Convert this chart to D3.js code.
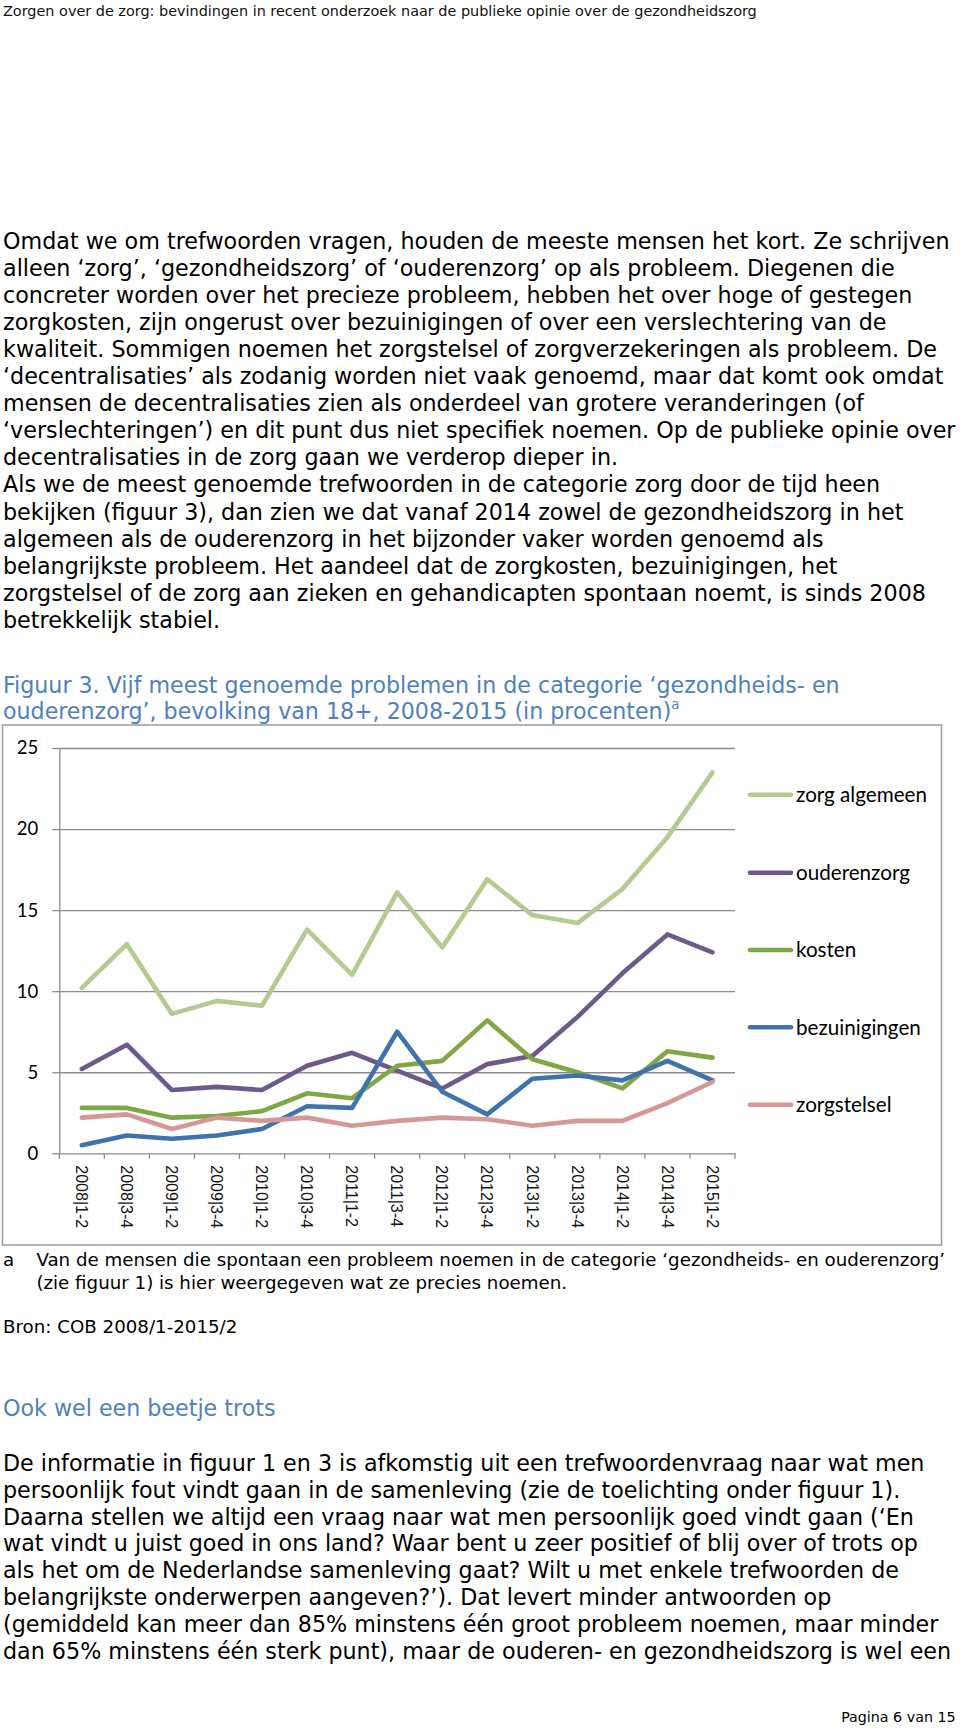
<!DOCTYPE html>
<html><head><meta charset="utf-8">
<script src="https://cdn.jsdelivr.net/npm/d3@7"></script>
<style>html,body{margin:0;padding:0;background:#fff;} svg{display:block}</style>
</head><body>
<svg id="page" width="960" height="1728"></svg>
<script>
// ---------- page text ----------
const headerText = "Zorgen over de zorg: bevindingen in recent onderzoek naar de publieke opinie over de gezondheidszorg";
const para1 = [
  "Omdat we om trefwoorden vragen, houden de meeste mensen het kort. Ze schrijven",
  "alleen ‘zorg’, ‘gezondheidszorg’ of ‘ouderenzorg’ op als probleem. Diegenen die",
  "concreter worden over het precieze probleem, hebben het over hoge of gestegen",
  "zorgkosten, zijn ongerust over bezuinigingen of over een verslechtering van de",
  "kwaliteit. Sommigen noemen het zorgstelsel of zorgverzekeringen als probleem. De",
  "‘decentralisaties’ als zodanig worden niet vaak genoemd, maar dat komt ook omdat",
  "mensen de decentralisaties zien als onderdeel van grotere veranderingen (of",
  "‘verslechteringen’) en dit punt dus niet specifiek noemen. Op de publieke opinie over",
  "decentralisaties in de zorg gaan we verderop dieper in.",
  "Als we de meest genoemde trefwoorden in de categorie zorg door de tijd heen",
  "bekijken (figuur 3), dan zien we dat vanaf 2014 zowel de gezondheidszorg in het",
  "algemeen als de ouderenzorg in het bijzonder vaker worden genoemd als",
  "belangrijkste probleem. Het aandeel dat de zorgkosten, bezuinigingen, het",
  "zorgstelsel of de zorg aan zieken en gehandicapten spontaan noemt, is sinds 2008",
  "betrekkelijk stabiel."
];
const captionLines = [
  "Figuur 3. Vijf meest genoemde problemen in de categorie ‘gezondheids- en",
  "ouderenzorg’, bevolking van 18+, 2008-2015 (in procenten)"
];
const captionSup = "a";
const footnoteMark = "a";
const footnoteLines = [
  "Van de mensen die spontaan een probleem noemen in de categorie ‘gezondheids- en ouderenzorg’",
  "(zie figuur 1) is hier weergegeven wat ze precies noemen."
];
const sourceText = "Bron: COB 2008/1-2015/2";
const heading2 = "Ook wel een beetje trots";
const para2 = [
  "De informatie in figuur 1 en 3 is afkomstig uit een trefwoordenvraag naar wat men",
  "persoonlijk fout vindt gaan in de samenleving (zie de toelichting onder figuur 1).",
  "Daarna stellen we altijd een vraag naar wat men persoonlijk goed vindt gaan (‘En",
  "wat vindt u juist goed in ons land? Waar bent u zeer positief of blij over of trots op",
  "als het om de Nederlandse samenleving gaat? Wilt u met enkele trefwoorden de",
  "belangrijkste onderwerpen aangeven?’). Dat levert minder antwoorden op",
  "(gemiddeld kan meer dan 85% minstens één groot probleem noemen, maar minder",
  "dan 65% minstens één sterk punt), maar de ouderen- en gezondheidszorg is wel een"
];
const footerText = "Pagina 6 van 15";

// ---------- chart data ----------
const categories = ["2008|1-2","2008|3-4","2009|1-2","2009|3-4","2010|1-2","2010|3-4","2011|1-2","2011|3-4",
  "2012|1-2","2012|3-4","2013|1-2","2013|3-4","2014|1-2","2014|3-4","2015|1-2"];
const seriesNames = ["zorg algemeen","ouderenzorg","kosten","bezuinigingen","zorgstelsel"];
const zorgAlgemeen  = [10.2, 12.9, 8.6, 9.4, 9.1, 13.8, 11.0, 16.1, 12.7, 16.9, 14.7, 14.2, 16.3, 19.5, 23.5];
const ouderenzorg   = [5.2, 6.7, 3.9, 4.1, 3.9, 5.4, 6.2, 5.1, 4.0, 5.5, 6.0, 8.4, 11.1, 13.5, 12.4];
const kosten        = [2.8, 2.8, 2.2, 2.3, 2.6, 3.7, 3.4, 5.4, 5.7, 8.2, 5.8, 5.0, 4.0, 6.3, 5.9];
const bezuinigingen = [0.5, 1.1, 0.9, 1.1, 1.5, 2.9, 2.8, 7.5, 3.8, 2.4, 4.6, 4.8, 4.5, 5.7, 4.5];
const zorgstelsel   = [2.2, 2.4, 1.5, 2.2, 2.0, 2.2, 1.7, 2.0, 2.2, 2.1, 1.7, 2.0, 2.0, 3.1, 4.4];
const seriesColors  = ["#b3cb90","#6e5a8a","#7fa743","#4072ad","#d69896"];
const yTicks = [0, 5, 10, 15, 20, 25];

const series = [zorgAlgemeen, ouderenzorg, kosten, bezuinigingen, zorgstelsel]
  .map((vals, i) => ({name: seriesNames[i], color: seriesColors[i], values: vals}));

// ---------- drawing ----------
const svg = d3.select("#page");
svg.append("rect").attr("width", 960).attr("height", 1728).attr("fill", "#fff");

const BODY = "'DejaVu Sans', Verdana, sans-serif";
const BLUE = "#4f81bd";

function fitSize(text, family, target) {
  const p = svg.append("text").attr("font-family", family).attr("font-size", 20).text(text);
  const w = p.node().getComputedTextLength();
  p.remove();
  return 20 * target / w;
}
function addLines(lines, x, yc0, dy, fs, family, color, anchor) {
  const g = svg.append("g").attr("font-family", family).attr("fill", color).attr("font-size", fs);
  return lines.map((t, i) => g.append("text")
    .attr("x", x).attr("y", yc0 + i * dy + 0.33 * fs)
    .attr("text-anchor", anchor || "start").text(t));
}

// header
const fsHead = fitSize(headerText, BODY, 755);
addLines([headerText], 3, 11, 0, fsHead, BODY, "#111");

// paragraph 1
const fsBody = fitSize(para1[0], BODY, 947);
addLines(para1, 3, 241.4, 27.08, fsBody, BODY, "#000");

// caption
const fsCap = fitSize(captionLines[0], BODY, 837);
const capTexts = addLines(captionLines, 3, 685.6, 26.4, fsCap, BODY, BLUE);
capTexts[1].append("tspan").attr("font-size", fsCap * 0.6).attr("dy", -fsCap * 0.45).text(captionSup);

// footnote
const fsFoot = fitSize(footnoteLines[0], BODY, 909.6);
addLines([footnoteMark], 3, 1260, 0, fsFoot, BODY, "#000");
addLines(footnoteLines, 36.4, 1260, 23, fsFoot, BODY, "#000");
addLines([sourceText], 3, 1327, 0, fsFoot, BODY, "#000");

// heading 2
const fsH2 = fitSize(heading2, BODY, 272.6);
addLines([heading2], 3, 1408.6, 0, fsH2, BODY, BLUE);

// paragraph 2
const fsBody2 = fitSize(para2[0], BODY, 922);
addLines(para2, 3, 1463.7, 26.8, fsBody2, BODY, "#000");

// footer
const fsFooter = fitSize(footerText, BODY, 114.6);
addLines([footerText], 955.6, 1717, 0, fsFooter, BODY, "#000", "end");

// ---------- chart ----------
const chart = svg.append("g");
chart.append("rect").attr("x", 2.5).attr("y", 725).attr("width", 939).attr("height", 520)
  .attr("fill", "#fff").attr("stroke", "#a0a0a0").attr("stroke-width", 1.6);

const plotL = 59.3, plotR = 735, plotT = 748, plotB = 1153.3;
const x = d3.scaleBand().domain(categories).range([plotL, plotR]);
const y = d3.scaleLinear().domain([0, 25]).range([plotB, plotT]);
const GRID = "#8c8c8c";

// gridlines
chart.append("g").attr("transform", `translate(${plotL},0)`)
  .call(d3.axisLeft(y).tickValues(yTicks.filter(v => v > 0)).tickSize(-(plotR - plotL)).tickFormat(""))
  .call(g => g.select(".domain").remove())
  .call(g => g.selectAll("line").attr("stroke", GRID).attr("stroke-width", 1.3));

// y axis
const yAxis = chart.append("g").attr("transform", `translate(${plotL},0)`)
  .call(d3.axisLeft(y).tickValues(yTicks).tickSize(7).tickPadding(14).tickSizeOuter(0));
yAxis.select(".domain").attr("stroke", GRID).attr("stroke-width", 1.3);
yAxis.selectAll("line").attr("stroke", GRID).attr("stroke-width", 1.3);
yAxis.selectAll("text").attr("font-family", "Lato, 'Open Sans', sans-serif").attr("font-size", 18.5).attr("fill", "#000");

// x axis
const xAxis = chart.append("g").attr("transform", `translate(0,${plotB})`)
  .call(d3.axisBottom(x).tickSize(0).tickPadding(0));
xAxis.select(".domain").attr("stroke", GRID).attr("stroke-width", 1.3);
xAxis.selectAll(".tick text")
  .attr("font-family", "'Liberation Sans', Arial, sans-serif").attr("font-size", 16).attr("fill", "#111")
  .attr("text-anchor", "start")
  .attr("transform", "translate(0,12) rotate(90)")
  .attr("x", 0).attr("y", 0).attr("dy", "0.36em");
// boundary tick marks
const bounds = categories.map(c => x(c)).concat([plotR]);
chart.append("g").selectAll("line").data(bounds).join("line")
  .attr("x1", d => d).attr("x2", d => d).attr("y1", plotB).attr("y2", plotB + 5.5)
  .attr("stroke", GRID).attr("stroke-width", 1.3);

// lines
const line = d3.line().x((d, i) => x(categories[i]) + x.bandwidth() / 2).y(d => y(d));
chart.append("g").selectAll("path").data(series).join("path")
  .attr("d", d => line(d.values))
  .attr("fill", "none").attr("stroke", d => d.color).attr("stroke-width", 4.6)
  .attr("stroke-linejoin", "round").attr("stroke-linecap", "round");

// legend
const LEG = "Lato, 'Open Sans', sans-serif";
const fsLeg = fitSize(seriesNames[0], LEG, 131);
const legY = [794.7, 872.7, 950, 1027.3, 1104.7];
const leg = chart.append("g").selectAll("g").data(series).join("g")
  .attr("transform", (d, i) => `translate(0,${legY[i]})`);
leg.append("line").attr("x1", 750).attr("x2", 791).attr("y1", 0).attr("y2", 0)
  .attr("stroke", d => d.color).attr("stroke-width", 4.6).attr("stroke-linecap", "round");
leg.append("text").attr("x", 796).attr("y", 0).attr("dy", "0.35em")
  .attr("font-family", LEG).attr("font-size", fsLeg).attr("fill", "#000").text(d => d.name);
</script>
</body></html>
